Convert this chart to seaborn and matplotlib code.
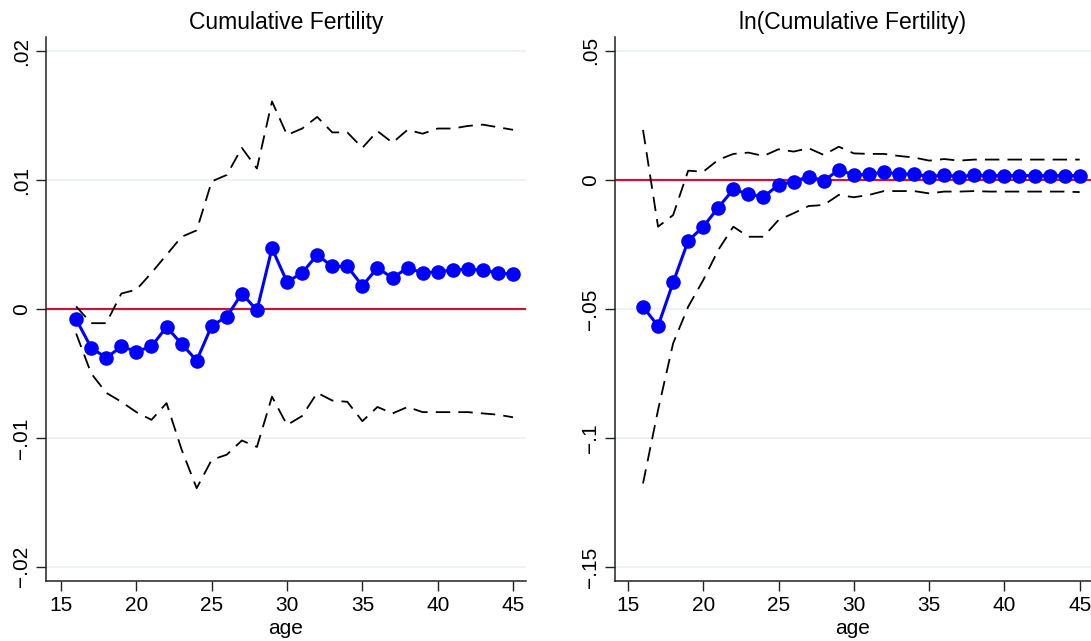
import matplotlib
matplotlib.use("Agg")
import matplotlib.pyplot as plt
import seaborn as sns
import pandas as pd

ages = list(range(16, 46))

est_cum = [-0.0008, -0.0030, -0.0038, -0.0029, -0.0033, -0.0029, -0.0014, -0.0027, -0.0040, -0.0013,
           -0.0006, 0.0012, -0.0001, 0.0047, 0.0021, 0.0028, 0.0042, 0.0033, 0.0033, 0.0018,
           0.0032, 0.0024, 0.0032, 0.0028, 0.0029, 0.0030, 0.0031, 0.0030, 0.0028, 0.0027]
up_cum = [0.0002, -0.0011, -0.0011, 0.0012, 0.0015, 0.0028, 0.0042, 0.0056, 0.0061, 0.0099,
          0.0104, 0.0125, 0.0109, 0.0161, 0.0135, 0.0140, 0.0149, 0.0137, 0.0137, 0.0125,
          0.0138, 0.0129, 0.0139, 0.0136, 0.0140, 0.0140, 0.0142, 0.0143, 0.0141, 0.0139]
lo_cum = [-0.0019, -0.0050, -0.0065, -0.0072, -0.0080, -0.0086, -0.0073, -0.0109, -0.0139, -0.0117,
          -0.0113, -0.0102, -0.0107, -0.0068, -0.0090, -0.0083, -0.0065, -0.0071, -0.0072, -0.0087,
          -0.0076, -0.0081, -0.0076, -0.0080, -0.0080, -0.0080, -0.0080, -0.0081, -0.0082, -0.0084]

est_ln = [-0.0491, -0.0566, -0.0397, -0.0236, -0.0181, -0.0107, -0.0036, -0.0055, -0.0066, -0.0019,
          -0.0006, 0.0013, -0.0003, 0.0039, 0.0019, 0.0022, 0.0030, 0.0023, 0.0023, 0.0013,
          0.0019, 0.0013, 0.0019, 0.0017, 0.0017, 0.0017, 0.0017, 0.0017, 0.0017, 0.0017]
up_ln = [0.0194, -0.0181, -0.0136, 0.0036, 0.0032, 0.0078, 0.0101, 0.0106, 0.0093, 0.0119,
         0.0110, 0.0123, 0.0097, 0.0129, 0.0103, 0.0101, 0.0101, 0.0093, 0.0087, 0.0075,
         0.0081, 0.0075, 0.0079, 0.0079, 0.0079, 0.0079, 0.0079, 0.0079, 0.0079, 0.0079]
lo_ln = [-0.1176, -0.0891, -0.0633, -0.0491, -0.0388, -0.0271, -0.0181, -0.0220, -0.0220, -0.0155,
         -0.0129, -0.0101, -0.0097, -0.0058, -0.0067, -0.0058, -0.0043, -0.0043, -0.0043, -0.0052,
         -0.0045, -0.0045, -0.0043, -0.0045, -0.0045, -0.0045, -0.0045, -0.0045, -0.0045, -0.0047]

titles = ["Cumulative Fertility", "ln(Cumulative Fertility)"]
x_ticks = [15, 20, 25, 30, 35, 40, 45]
y_ticks_cum = [-0.02, -0.01, 0.0, 0.01, 0.02]
y_labels_cum = ["\u2212.02", "\u2212.01", "0", ".01", ".02"]
y_ticks_ln = [-0.15, -0.10, -0.05, 0.0, 0.05]
y_labels_ln = ["\u2212.15", "\u2212.1", "\u2212.05", "0", ".05"]

sns.set_theme(style="white")
plt.rcParams['font.family'] = ['Liberation Sans', 'DejaVu Sans']
plt.rcParams['text.color'] = 'black'
plt.rcParams['axes.labelcolor'] = 'black'
plt.rcParams['xtick.color'] = 'black'
plt.rcParams['ytick.color'] = 'black'

fig = plt.figure(figsize=(10.91, 6.41), dpi=100)
ax1 = fig.add_axes([46 / 1091, 1 - 581 / 641, 480 / 1091, 544 / 641])
ax2 = fig.add_axes([615 / 1091, 1 - 581 / 641, 476 / 1091, 544 / 641])

panels = [
    (ax1, est_cum, up_cum, lo_cum, y_ticks_cum, y_labels_cum, (-0.0211, 0.0211), (14.0, 45.86)),
    (ax2, est_ln, up_ln, lo_ln, y_ticks_ln, y_labels_ln, (-0.1554, 0.0554), (14.14, 45.75)),
]

for (ax, est, up, lo, yt, yl, ylim, xlim), title in zip(panels, titles):
    df = pd.DataFrame({"age": ages, "est": est, "up": up, "lo": lo})
    for yv in yt:
        ax.axhline(yv, color="#EAF2F3", lw=1.3, zorder=0)
    ax.axhline(0, color="#C8143C", lw=1.6, zorder=1)
    for col in ["up", "lo"]:
        sns.lineplot(data=df, x="age", y=col, ax=ax, color="black", lw=1.3,
                     dashes=False, zorder=2).lines[-1].set_dashes((8, 4.5))
    sns.lineplot(data=df, x="age", y="est", ax=ax, color="#0000FF", lw=2.2,
                 marker="o", markersize=10.5, markeredgewidth=0, zorder=3)
    ax.set_xlim(*xlim)
    ax.set_ylim(*ylim)
    ax.set_xticks(x_ticks)
    ax.set_xticklabels([str(t) for t in x_ticks], fontsize=15, color="black")
    ax.set_yticks(yt)
    ax.set_yticklabels(yl, fontsize=15, rotation=90, va="center", color="black")
    ax.set_xlabel("age", fontsize=15, labelpad=3, color="black")
    ax.set_ylabel("")
    ax.set_title(title, fontsize=16.5, pad=6, color="black")
    ax.tick_params(axis="both", which="major", length=7.5, width=1.0, color="#222222",
                   bottom=True, left=True, pad=3)
    for s in ["top", "right"]:
        ax.spines[s].set_visible(False)
    for s in ["left", "bottom"]:
        ax.spines[s].set_color("#222222")
        ax.spines[s].set_linewidth(1.1)
    ax.set_facecolor("white")

fig.savefig("out.png", dpi=100, facecolor="white")
